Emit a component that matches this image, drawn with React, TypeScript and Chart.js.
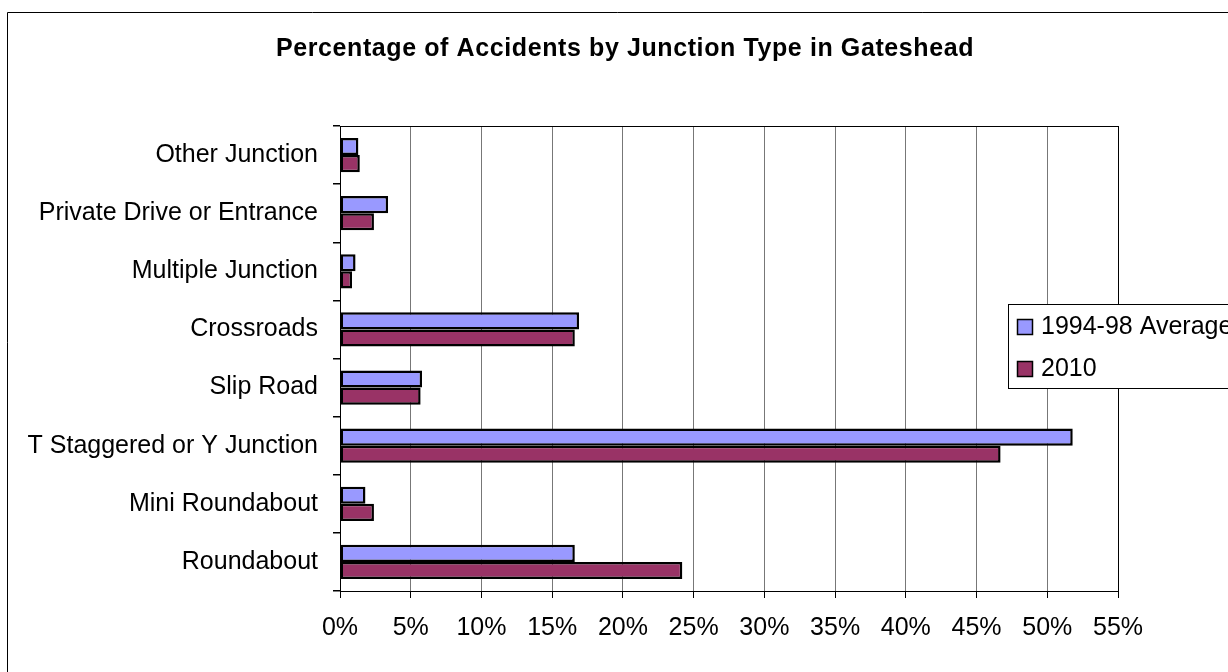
import React, { useEffect, useRef } from "react";
import { Chart, registerables } from "chart.js";

Chart.register(...registerables);

const chartTitle = "Percentage of Accidents by Junction Type in Gateshead";
const categories = [
  "Other Junction",
  "Private Drive or Entrance",
  "Multiple Junction",
  "Crossroads",
  "Slip Road",
  "T Staggered or Y Junction",
  "Mini Roundabout",
  "Roundabout",
];
const seriesNames = ["1994-98 Average", "2010"];
const average9498 = [1.3, 3.4, 1.1, 16.9, 5.8, 51.8, 1.8, 16.6];
const values2010 = [1.4, 2.4, 0.85, 16.6, 5.7, 46.7, 2.4, 24.2];
const xMin = 0;
const xMax = 55;
const xStep = 5;

const FONT = "'Liberation Sans', Arial, sans-serif";

export default function App() {
  const ref = useRef<HTMLCanvasElement | null>(null);

  useEffect(() => {
    if (!ref.current) return;

    const framePlugin = {
      id: "frame",
      beforeDraw(chart: any) {
        const ctx = chart.ctx;
        ctx.save();
        ctx.fillStyle = "#ffffff";
        ctx.fillRect(0, 0, chart.width, chart.height);
        ctx.strokeStyle = "#000";
        ctx.lineWidth = 1;
        ctx.beginPath();
        ctx.moveTo(7.5, chart.height);
        ctx.lineTo(7.5, 12.5);
        ctx.lineTo(chart.width, 12.5);
        ctx.stroke();
        ctx.fillStyle = "#000";
        ctx.font = `bold 25px ${FONT}`;
        try {
          (ctx as any).letterSpacing = "0.6px";
        } catch (e) {}
        ctx.textAlign = "center";
        ctx.textBaseline = "middle";
        ctx.fillText(chartTitle, 625, 49);
        ctx.restore();
      },
      afterDraw(chart: any) {
        const ctx = chart.ctx;
        const a = chart.chartArea;
        ctx.save();
        ctx.strokeStyle = "#000";
        ctx.lineWidth = 1;
        ctx.strokeRect(Math.round(a.left) + 0.5, Math.round(a.top) + 0.5, Math.round(a.right - a.left), Math.round(a.bottom - a.top));
        const lx = 1008.5;
        const ly = 304.5;
        ctx.fillStyle = "#fff";
        ctx.fillRect(lx, ly, 300, 84);
        ctx.strokeRect(lx, ly, 300, 84);
        const rows = [327, 369];
        chart.data.datasets.forEach((ds: any, i: number) => {
          const cy = rows[i];
          ctx.fillStyle = ds.backgroundColor;
          ctx.fillRect(1017.5, cy - 7.5, 15, 15);
          ctx.strokeStyle = "#000";
          ctx.lineWidth = 1.5;
          ctx.strokeRect(1017.5, cy - 7.5, 15, 15);
          ctx.fillStyle = "#000";
          ctx.font = `25px ${FONT}`;
          ctx.textAlign = "left";
          ctx.textBaseline = "middle";
          ctx.fillText(ds.label, 1041, cy);
        });
        ctx.restore();
      },
    };

    const chart = new Chart(ref.current, {
      type: "bar",
      data: {
        labels: categories,
        datasets: [
          {
            label: seriesNames[0],
            data: average9498,
            backgroundColor: "#9999FF",
            borderColor: "#000",
            borderWidth: 2.5,
            borderSkipped: false,
            barPercentage: 1,
            categoryPercentage: 0.59,
          },
          {
            label: seriesNames[1],
            data: values2010,
            backgroundColor: "#993366",
            borderColor: "#000",
            borderWidth: 2.5,
            borderSkipped: false,
            barPercentage: 1,
            categoryPercentage: 0.59,
          },
        ],
      },
      options: {
        indexAxis: "y",
        animation: false,
        responsive: false,
        devicePixelRatio: 1,
        layout: { padding: { top: 126, right: 110, left: 0, bottom: 0 } },
        plugins: {
          legend: { display: false },
          tooltip: { enabled: false },
          title: { display: false },
        },
        scales: {
          x: {
            type: "linear",
            position: "bottom",
            min: xMin,
            max: xMax,
            afterFit(scale: any) {
              scale.height = 81;
            },
            ticks: {
              stepSize: xStep,
              color: "#000",
              font: { family: FONT, size: 25 },
              padding: 15,
              maxRotation: 0,
              callback: (v: any) => `${v}%`,
            },
            grid: {
              color: "#777777",
              tickColor: "#000",
              tickLength: 7,
              lineWidth: 1,
            },
            border: { color: "#000", width: 1 },
          },
          y: {
            type: "category",
            position: "left",
            afterFit(scale: any) {
              scale.width = 340;
            },
            ticks: {
              color: "#000",
              font: { family: FONT, size: 25 },
              padding: 15,
            },
            grid: {
              offset: true,
              drawOnChartArea: false,
              color: "#000",
              tickColor: "#000",
              tickLength: 7,
              lineWidth: 1.5,
            },
            border: { color: "#000", width: 1 },
          },
        },
      },
      plugins: [framePlugin],
    } as any);

    return () => chart.destroy();
  }, []);

  return (
    <div style={{ position: "fixed", left: 0, top: 0, width: 1228, height: 672, background: "#fff" }}>
      <canvas ref={ref} width={1228} height={672} style={{ width: 1228, height: 672, display: "block" }} />
    </div>
  );
}
